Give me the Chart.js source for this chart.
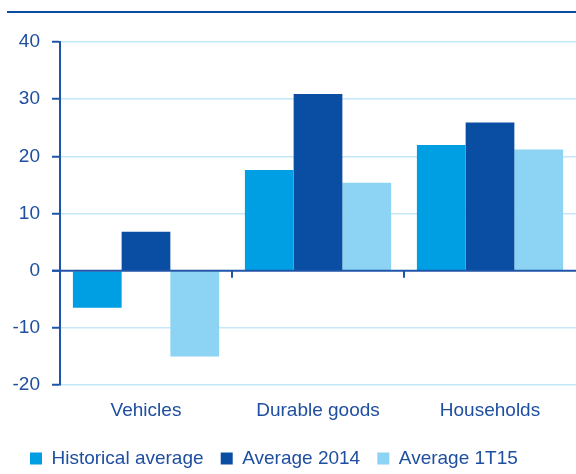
<!DOCTYPE html>
<html>
<head>
<meta charset="utf-8">
<script src="https://cdn.jsdelivr.net/npm/chart.js@4/dist/chart.umd.min.js"></script>
<style>
  html, body { margin: 0; padding: 0; background: #fff; }
  #wrap { position: relative; width: 576px; height: 474px; }
  #topline { position: absolute; left: 7px; right: 0; top: 11px; height: 2px; background: #0A4EA3; }
  canvas { position: absolute; left: 0; top: 0; }
</style>
</head>
<body>
<div id="wrap">
  <div id="topline"></div>
  <canvas id="c" width="576" height="474"></canvas>
</div>
<script>
const categories = ["Vehicles", "Durable goods", "Households"];
const seriesNames = ["Historical average", "Average 2014", "Average 1T15"];
const historical = [-6.5, 17.6, 22.0];
const avg2014 = [6.8, 30.9, 25.9];
const avg1T15 = [-15.0, 15.4, 21.2];
const yTicks = [-20, -10, 0, 10, 20, 30, 40];

const textColor = "#1F4FA0";
const axisColor = "#1F55A8";
const gridColor = "#C5E8F8";
const colors = ["#009FE3", "#0A4EA3", "#8DD3F3"];
const FONT = "Arial, 'Liberation Sans', sans-serif";

const boundaryTicks = {
  id: "boundaryTicks",
  afterLayout(chart) {
    if (chart.legend) {
      chart.legend.left += 17; chart.legend.right += 17;
      chart.legend.top += 4; chart.legend.bottom += 4;
    }
  },
  afterDatasetsDraw(chart) {
    const x = chart.scales.x, y = chart.scales.y;
    const ctx = chart.ctx;
    const y0 = y.getPixelForValue(0);
    const n = categories.length;
    const step = (x.getPixelForValue(n - 1) - x.getPixelForValue(0)) / (n - 1);
    ctx.save();
    ctx.strokeStyle = axisColor;
    ctx.lineWidth = 2;
    ctx.beginPath();
    ctx.moveTo(chart.chartArea.left - 8, y0);
    ctx.lineTo(chart.chartArea.right, y0);
    ctx.stroke();
    for (let i = 1; i < n; i++) {
      const px = Math.round(x.getPixelForValue(i) - step / 2);
      ctx.beginPath();
      ctx.moveTo(px, y0);
      ctx.lineTo(px, y0 + 7);
      ctx.stroke();
    }
    ctx.restore();
  }
};

new Chart(document.getElementById("c"), {
  type: "bar",
  data: {
    labels: categories,
    datasets: [
      { label: seriesNames[0], data: historical, backgroundColor: colors[0] },
      { label: seriesNames[1], data: avg2014, backgroundColor: colors[1] },
      { label: seriesNames[2], data: avg1T15, backgroundColor: colors[2] }
    ]
  },
  options: {
    responsive: false,
    animation: false,
    layout: { padding: { left: 8, right: 0, top: 42, bottom: 0 } },
    datasets: { bar: { categoryPercentage: 0.85, barPercentage: 1.0 } },
    scales: {
      x: {
        grid: { display: false },
        border: { display: false },
        ticks: { color: textColor, font: { family: FONT, size: 19 }, padding: 6 },
        afterFit(scale) { scale.height = 55; }
      },
      y: {
        min: -20, max: 40,
        afterBuildTicks(scale) { scale.ticks = yTicks.map(v => ({ value: v })); },
        afterFit(scale) { scale.width = 52; },
        grid: {
          color: ctx => (ctx.tick && ctx.tick.value === 0) ? "rgba(0,0,0,0)" : gridColor,
          lineWidth: 1.5,
          tickColor: axisColor,
          tickLength: 8,
          tickWidth: 2
        },
        border: { display: true, color: axisColor, width: 2 },
        ticks: { color: textColor, font: { family: FONT, size: 19 }, padding: 12 }
      }
    },
    plugins: {
      legend: {
        position: "bottom",
        align: "start",
        labels: {
          color: textColor,
          font: { family: FONT, size: 19 },
          boxWidth: 12, boxHeight: 12, padding: 5,
          generateLabels(chart) {
            const items = Chart.defaults.plugins.legend.labels.generateLabels(chart);
            items.forEach((it, i) => { if (i < items.length - 1) it.text = it.text + "  \u200A"; });
            return items;
          }
        }
      },
      tooltip: { enabled: false }
    }
  },
  plugins: [boundaryTicks]
});
</script>
</body>
</html>
